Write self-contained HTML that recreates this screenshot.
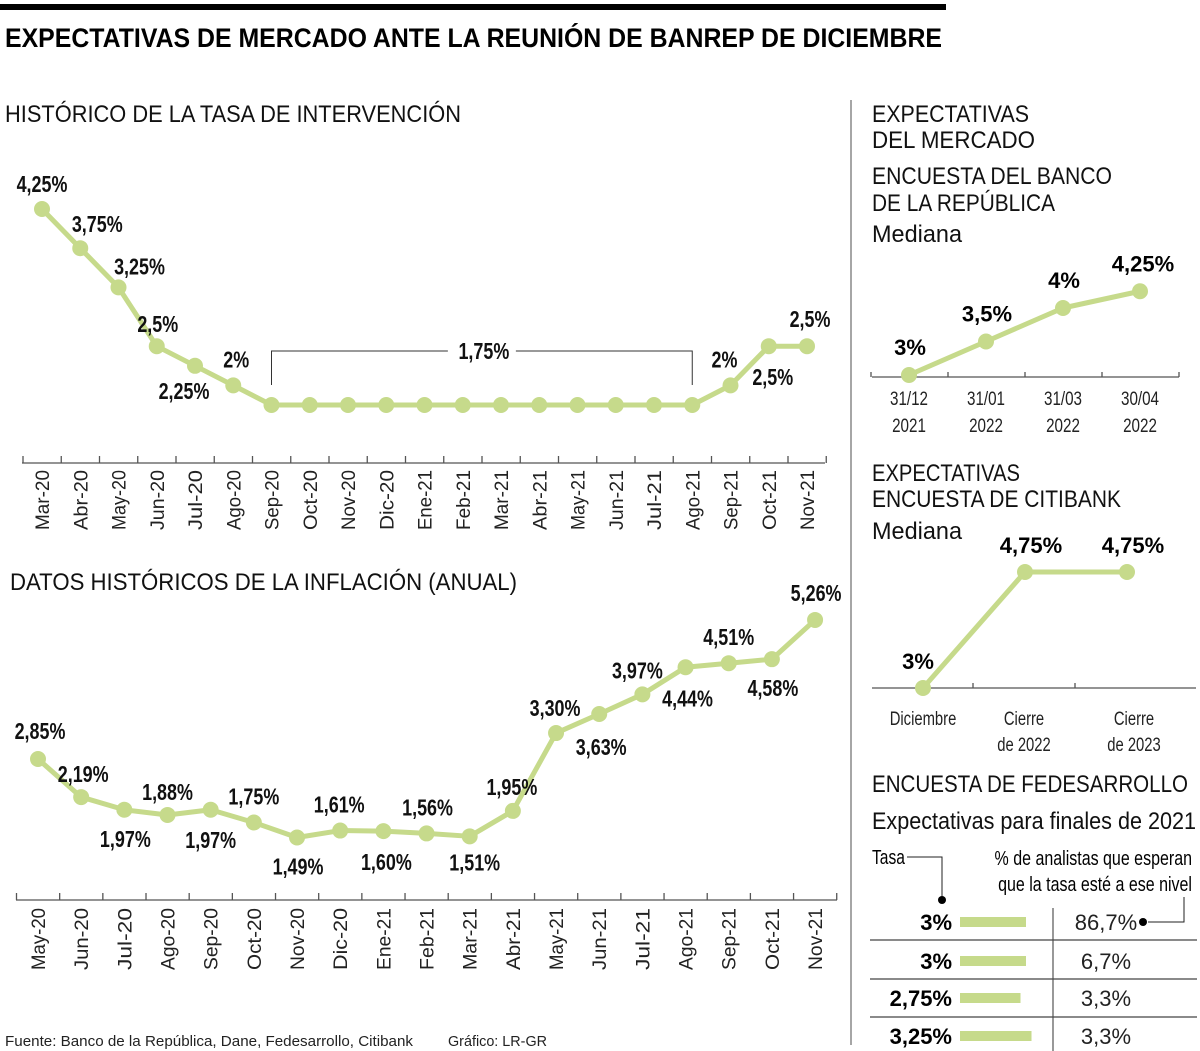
<!DOCTYPE html>
<html><head><meta charset="utf-8">
<style>
html,body{margin:0;padding:0;background:#fff;}
svg{display:block;font-family:"Liberation Sans",sans-serif;}
.g{fill:#c6da8b;}
.ln{stroke:#c6da8b;stroke-width:5;fill:none;stroke-linejoin:round;}
.ax{stroke:#555;stroke-width:1.3;fill:none;}
.lbl{font-weight:bold;font-size:23px;fill:#111;}
.tk{font-size:19px;fill:#222;}
.h{font-size:24px;fill:#111;}
</style></head>
<body>
<svg id="s" width="1200" height="1051" viewBox="0 0 1200 1051" xmlns="http://www.w3.org/2000/svg">
<rect x="0" y="4" width="946" height="6" fill="#000"/>
<text x="5" y="47" font-size="27" font-weight="bold" textLength="937" lengthAdjust="spacingAndGlyphs">EXPECTATIVAS DE MERCADO ANTE LA REUNIÓN DE BANREP DE DICIEMBRE</text>
<text x="5" y="122" class="h" textLength="456" lengthAdjust="spacingAndGlyphs">HISTÓRICO DE LA TASA DE INTERVENCIÓN</text>
<text x="10" y="590" class="h" textLength="507" lengthAdjust="spacingAndGlyphs">DATOS HISTÓRICOS DE LA INFLACIÓN (ANUAL)</text>
<line x1="851" y1="100" x2="851" y2="1045" stroke="#777" stroke-width="1.3"/>
<g id="c1"></g>
<g id="c2"></g>
<g id="c3"></g>
<g id="c4"></g>
<g id="c5"></g>

<text x="872" y="122" class="h" textLength="157" lengthAdjust="spacingAndGlyphs">EXPECTATIVAS</text>
<text x="872" y="148" class="h" textLength="163" lengthAdjust="spacingAndGlyphs">DEL MERCADO</text>
<text x="872" y="184" class="h" textLength="240" lengthAdjust="spacingAndGlyphs">ENCUESTA DEL BANCO</text>
<text x="872" y="211" class="h" textLength="183" lengthAdjust="spacingAndGlyphs">DE LA REPÚBLICA</text>
<text x="872" y="242" class="h" textLength="90" lengthAdjust="spacingAndGlyphs">Mediana</text>
<text x="872" y="481" class="h" textLength="148" lengthAdjust="spacingAndGlyphs">EXPECTATIVAS</text>
<text x="872" y="507" class="h" textLength="249" lengthAdjust="spacingAndGlyphs">ENCUESTA DE CITIBANK</text>
<text x="872" y="539" class="h" textLength="90" lengthAdjust="spacingAndGlyphs">Mediana</text>
<text x="872" y="792" class="h" textLength="316" lengthAdjust="spacingAndGlyphs">ENCUESTA DE FEDESARROLLO</text>
<text x="872" y="829" class="h" textLength="324" lengthAdjust="spacingAndGlyphs">Expectativas para finales de 2021</text>
<text x="5" y="1046" font-size="15" fill="#222" textLength="408" lengthAdjust="spacingAndGlyphs">Fuente: Banco de la República, Dane, Fedesarrollo, Citibank</text>
<text x="448" y="1046" font-size="15" fill="#222" textLength="99" lengthAdjust="spacingAndGlyphs">Gráfico: LR-GR</text>
</svg>
<script>
const rateMonths=["Mar-20","Abr-20","May-20","Jun-20","Jul-20","Ago-20","Sep-20","Oct-20","Nov-20","Dic-20","Ene-21","Feb-21","Mar-21","Abr-21","May-21","Jun-21","Jul-21","Ago-21","Sep-21","Oct-21","Nov-21"];
const rateValues=[4.25,3.75,3.25,2.5,2.25,2,1.75,1.75,1.75,1.75,1.75,1.75,1.75,1.75,1.75,1.75,1.75,1.75,2,2.5,2.5];
const rateLabels=["4,25%","3,75%","3,25%","2,5%","2,25%","2%","","","","","","","","","","","","","2%","2,5%","2,5%"];
const inflMonths=["May-20","Jun-20","Jul-20","Ago-20","Sep-20","Oct-20","Nov-20","Dic-20","Ene-21","Feb-21","Mar-21","Abr-21","May-21","Jun-21","Jul-21","Ago-21","Sep-21","Oct-21","Nov-21"];
const inflValues=[2.85,2.19,1.97,1.88,1.97,1.75,1.49,1.61,1.60,1.56,1.51,1.95,3.30,3.63,3.97,4.44,4.51,4.58,5.26];
const inflLabels=["2,85%","2,19%","1,97%","1,88%","1,97%","1,75%","1,49%","1,61%","1,60%","1,56%","1,51%","1,95%","3,30%","3,63%","3,97%","4,44%","4,51%","4,58%","5,26%"];
const banrepDates=[["31/12","2021"],["31/01","2022"],["31/03","2022"],["30/04","2022"]];
const banrepValues=[3,3.5,4,4.25];
const banrepLabels=["3%","3,5%","4%","4,25%"];
const citiDates=[["Diciembre"],["Cierre","de 2022"],["Cierre","de 2023"]];
const citiValues=[3,4.75,4.75];
const citiLabels=["3%","4,75%","4,75%"];
const fedeRates=[3,3,2.75,3.25];
const fedeRateLabels=["3%","3%","2,75%","3,25%"];
const fedeShares=["86,7%","6,7%","3,3%","3,3%"];

const NS="http://www.w3.org/2000/svg";
function el(p,t,a,txt){const e=document.createElementNS(NS,t);for(const k in a)e.setAttribute(k,a[k]);if(txt!==undefined)e.textContent=txt;p.appendChild(e);return e;}

// label offsets (styling, not data)
const rateOff=[[0,-24],[17,-23],[21,-20],[1,-21],[-11,26],[3,-25],[0,0],[0,0],[0,0],[0,0],[0,0],[0,0],[0,0],[0,0],[0,0],[0,0],[0,0],[0,0],[-6,-25],[4,32],[3,-26]];
const inflOff=[[2,-27],[2,-22],[1,30],[0,-22],[0,31],[0,-25],[1,30],[-1,-25],[3,32],[1,-25],[5,27],[-1,-23],[-1,-24],[2,34],[-5,-23],[2,32],[0,-25],[1,30],[1,-26]];

// Chart 1
(function(){
 const g=document.getElementById('c1');
 const x=i=>42+i*38.25, y=v=>405-(v-1.75)*78.4;
 el(g,'line',{x1:22,y1:463,x2:825,y2:463,class:'ax',});
 for(let i=0;i<=rateMonths.length;i++){const t=el(g,'line',{x1:x(i)-19,y1:456,x2:x(i)-19,y2:463,class:'ax'});
  }
 rateMonths.forEach((m,i)=>{const t=el(g,'text',{class:'tk',transform:`translate(${x(i)+7},530) rotate(-90)`,textLength:60,lengthAdjust:'spacingAndGlyphs'},m);
  });
 const br=el(g,'path',{d:`M${x(6)},385 V351 H${x(17)} V385`,stroke:'#333','stroke-width':1,fill:'none'});
 
 el(g,'rect',{x:x(11.5)-34,y:338,width:68,height:24,fill:'#fff'});
 const bt=el(g,'text',{class:'lbl',transform:`translate(${x(11.5)+2},359) scale(0.78,1)`,'text-anchor':'middle'},"1,75%");
 
 const p=el(g,'polyline',{class:'ln',points:rateValues.map((v,i)=>x(i)+','+y(v)).join(' ')});
 
 rateValues.forEach((v,i)=>{const c=el(g,'circle',{cx:x(i),cy:y(v),r:8,class:'g'});
  
  if(rateLabels[i]){const t=el(g,'text',{class:'lbl',transform:`translate(${x(i)+rateOff[i][0]},${y(v)+rateOff[i][1]+7}) scale(0.78,1)`,'text-anchor':'middle'},rateLabels[i]);
   }});
})();

// Chart 2
(function(){
 const g=document.getElementById('c2');
 const x=i=>38+i*43.17, y=v=>759-(v-2.85)*57.7;
 el(g,'line',{x1:16,y1:900,x2:837,y2:900,class:'ax',});
 for(let i=0;i<=inflMonths.length;i++){const t=el(g,'line',{x1:x(i)-21.5,y1:893,x2:x(i)-21.5,y2:900,class:'ax'});
  }
 inflMonths.forEach((m,i)=>{const t=el(g,'text',{class:'tk',transform:`translate(${x(i)+7},970) rotate(-90)`,textLength:62,lengthAdjust:'spacingAndGlyphs'},m);
  });
 const p=el(g,'polyline',{class:'ln',points:inflValues.map((v,i)=>x(i)+','+y(v)).join(' ')});
 
 inflValues.forEach((v,i)=>{const c=el(g,'circle',{cx:x(i),cy:y(v),r:8,class:'g'});
  
  const t=el(g,'text',{class:'lbl',transform:`translate(${x(i)+inflOff[i][0]},${y(v)+inflOff[i][1]+7}) scale(0.78,1)`,'text-anchor':'middle'},inflLabels[i]);
  });
})();

// Chart 3 banrep
(function(){
 const g=document.getElementById('c3');
 const x=i=>909+i*77, y=v=>375-(v-3)*67;
 el(g,'line',{x1:872,y1:377,x2:1179,y2:377,class:'ax',});
 for(let i=0;i<=4;i++){const t=el(g,'line',{x1:x(i)-38,y1:372,x2:x(i)-38,y2:377,class:'ax'});
  }
 banrepDates.forEach((d,i)=>d.forEach((s,k)=>{const t=el(g,'text',{class:'tk','font-size':23,'text-anchor':'middle',transform:`translate(${x(i)},${405+k*27}) scale(0.8,1)`},s);
  }));
 const p=el(g,'polyline',{class:'ln',points:banrepValues.map((v,i)=>x(i)+','+y(v)).join(' ')});
 
 banrepValues.forEach((v,i)=>{const c=el(g,'circle',{cx:x(i),cy:y(v),r:8,class:'g'});
  
  const t=el(g,'text',{'font-size':22,'font-weight':'bold','text-anchor':'middle',x:x(i)+(i==3?3:1),y:y(v)-20},banrepLabels[i]);
  });
})();

// Chart 4 citibank
(function(){
 const g=document.getElementById('c4');
 const xs=[923,1024,1127]; const x=i=>xs[0]+i*102, y=v=>688-(v-3)*66.3;
 el(g,'line',{x1:872,y1:688,x2:1196,y2:688,class:'ax',});
 [973,1075].forEach(tx=>{const t=el(g,'line',{x1:tx,y1:683,x2:tx,y2:688,class:'ax'});
  });
 citiDates.forEach((d,i)=>d.forEach((s,k)=>{const t=el(g,'text',{class:'tk','font-size':23,'text-anchor':'middle',transform:`translate(${i==0?923:(i==1?1024:1134)},${725+k*26}) scale(0.78,1)`},s);
  }));
 const p=el(g,'polyline',{class:'ln',points:citiValues.map((v,i)=>x(i)+','+y(v)).join(' ')});
 
 citiValues.forEach((v,i)=>{const c=el(g,'circle',{cx:x(i),cy:y(v),r:8,class:'g'});
  
  const t=el(g,'text',{'font-size':22,'font-weight':'bold','text-anchor':'middle',x:x(i)+(i==0?-5:6),y:y(v)-19},citiLabels[i]);
  });
})();

// Table 5 fedesarrollo
(function(){
 const g=document.getElementById('c5');
 const t1=el(g,'text',{'font-size':20,transform:'translate(872,864) scale(0.78,1)'},'Tasa');
 
 el(g,'path',{d:'M907,857 H942 V898',stroke:'#222','stroke-width':1,fill:'none'});
 el(g,'circle',{cx:942,cy:900,r:4,fill:'#000'});
 const t2=el(g,'text',{'font-size':20,'text-anchor':'end',transform:'translate(1192,865) scale(0.8,1)'},'% de analistas que esperan');
 
 const t3=el(g,'text',{'font-size':20,'text-anchor':'end',transform:'translate(1192,891) scale(0.8,1)'},'que la tasa esté a ese nivel');
 
 el(g,'path',{d:'M1148,922 H1184 V897',stroke:'#222','stroke-width':1,fill:'none'});
 el(g,'circle',{cx:1143,cy:922,r:4,fill:'#000'});
 el(g,'line',{x1:1053,y1:908,x2:1053,y2:1051,stroke:'#555','stroke-width':1.2});
 [940,979,1017].forEach(yy=>{const l=el(g,'line',{x1:870,y1:yy,x2:1197,y2:yy,stroke:'#444','stroke-width':1.2});
  });
 const rowY=[922,961,998,1036];
 fedeRates.forEach((r,i)=>{
  const a=el(g,'text',{'font-size':22,'font-weight':'bold','text-anchor':'end',x:952,y:rowY[i]+8},fedeRateLabels[i]);
  
  const b=el(g,'rect',{x:960,y:rowY[i]-5,width:r*22,height:10,class:'g'});
  
  const c=el(g,'text',{'font-size':22,'text-anchor':'middle',x:1106,y:rowY[i]+8,fill:'#222'},fedeShares[i]);
  
 });
})();
</script>
</body></html>
